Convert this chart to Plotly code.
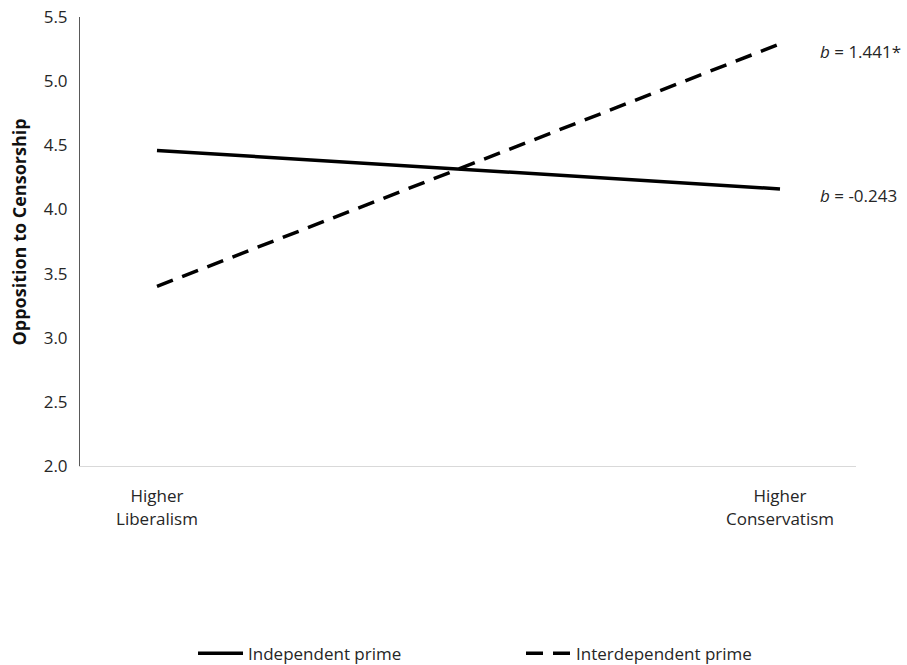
import plotly.graph_objects as go

# Simple slopes of opposition to censorship across political ideology
x_pos = [0, 1]
x_labels = ["Higher<br>Liberalism", "Higher<br>Conservatism"]
independent = [4.46, 4.16]
interdependent = [3.40, 5.29]
slope_labels = ["<i>b</i> = -0.243", "<i>b</i> = 1.441*"]
y_ticks = [2.0, 2.5, 3.0, 3.5, 4.0, 4.5, 5.0, 5.5]

FONT = "Open Sans, Noto Sans, sans-serif"
TXT = "#262626"

fig = go.Figure()
fig.add_trace(go.Scatter(
    x=x_pos, y=independent, mode="lines", name="Independent prime",
    line=dict(color="black", width=3.5),
))
fig.add_trace(go.Scatter(
    x=x_pos, y=interdependent, mode="lines", name="Interdependent prime",
    line=dict(color="black", width=3.5, dash="17px,10px"),
))

# slope annotations to the right of each line's end
for yv, txt, ys in zip([independent[-1], interdependent[-1]], slope_labels, [-7, -8]):
    fig.add_annotation(
        x=x_pos[-1], y=yv, xref="x", yref="y", text=txt, showarrow=False,
        xanchor="left", xshift=38, yshift=ys,
        font=dict(family=FONT, size=17, color=TXT),
    )

# vertical y-axis title
fig.add_annotation(
    x=0, y=0.52, xref="paper", yref="paper", xanchor="center", yanchor="middle",
    xshift=-61, text="<b>Opposition to Censorship</b>", textangle=-90,
    showarrow=False, font=dict(family=FONT, size=18, color="#111"),
)

fig.update_layout(
    width=907, height=665,
    margin=dict(l=80, r=51, t=17, b=199, autoexpand=False),
    paper_bgcolor="white", plot_bgcolor="white",
    font=dict(family=FONT, size=17, color=TXT),
    showlegend=True,
    legend=dict(
        orientation="h", xref="container", x=0.2128, xanchor="left",
        yref="container", y=0.017, yanchor="middle",
        font=dict(family=FONT, size=17, color=TXT),
        itemwidth=45, traceorder="normal",
        entrywidth=268, entrywidthmode="pixels",
    ),
    xaxis=dict(
        range=[-0.1236, 1.1220], tickvals=x_pos, ticktext=x_labels,
        showgrid=False, zeroline=False, showline=True, linecolor="#d9d9d9",
        linewidth=1, ticks="", ticklabelstandoff=15,
        tickfont=dict(family=FONT, size=17, color=TXT),
    ),
    yaxis=dict(
        range=[2.0, 5.5], tickvals=y_ticks, tickformat=".1f",
        showgrid=False, zeroline=False, showline=True, linecolor="#595959",
        linewidth=1, ticks="", ticklabelstandoff=8,
        tickfont=dict(family=FONT, size=17, color=TXT),
    ),
)

fig.write_html("out.html")
